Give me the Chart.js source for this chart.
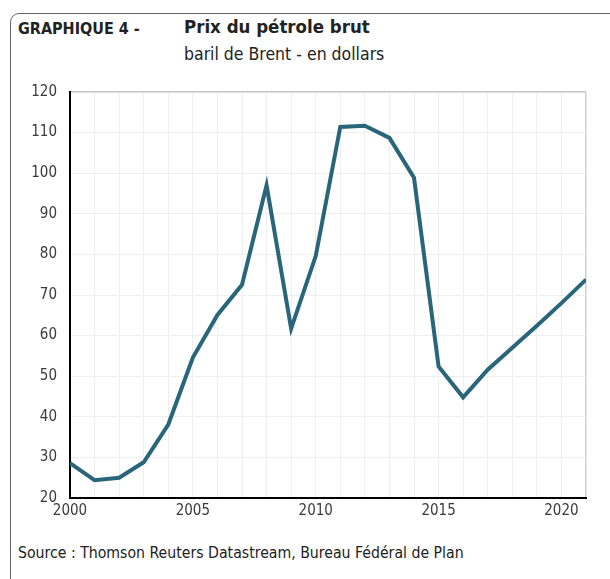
<!DOCTYPE html>
<html>
<head>
<meta charset="utf-8">
<script src="https://cdn.jsdelivr.net/npm/chart.js@4"></script>
<style>
  body { margin: 0; background: #fff; width: 610px; height: 579px; overflow: hidden; position: relative;
         font-family: "DejaVu Sans Condensed", "Open Sans", sans-serif; color: #222; }
  .frame { position: absolute; left: 10px; top: 13px; width: 640px; height: 620px;
           border: 1.5px solid #666; border-radius: 9px; }
  .t { position: absolute; white-space: nowrap; }
  #wrap { position: absolute; left: 0; top: 70px; width: 610px; height: 460px; }
</style>
</head>
<body>
<div class="frame"></div>
<div class="t" style="left:18px; top:19px; font-size:16px; font-weight:bold;">GRAPHIQUE 4 -</div>
<div class="t" style="left:184px; top:16px; font-size:18.5px; font-weight:bold;">Prix du pétrole brut</div>
<div class="t" style="left:184px; top:44px; font-size:17.5px;">baril de Brent - en dollars</div>
<div class="t" style="left:18px; top:543px; font-size:15.7px;">Source : Thomson Reuters Datastream, Bureau Fédéral de Plan</div>
<div id="wrap"><canvas id="c"></canvas></div>
<script>
const years = [2000, 2001, 2002, 2003, 2004, 2005, 2006, 2007, 2008, 2009, 2010,
  2011, 2012, 2013, 2014, 2015, 2016, 2017, 2018, 2019, 2020, 2021];
const brent = [28.6, 24.4, 25.0, 28.8, 38.1, 54.6, 65.1, 72.5, 97.0, 61.7, 79.6,
  111.4, 111.7, 108.7, 98.9, 52.4, 44.8, 51.6, 57.0, 62.4, 68.0, 73.8];
const yMin = 20, yMax = 120, yStep = 10;
const labelEvery = 5;

const font = { family: '"DejaVu Sans Condensed", "Open Sans", sans-serif', size: 15 };

new Chart(document.getElementById("c"), {
  type: "line",
  data: {
    datasets: [{
      data: years.map((y, i) => ({ x: y, y: brent[i] })),
      borderColor: "#29667b",
      borderWidth: 4,
      pointRadius: 0,
      tension: 0
    }]
  },
  options: {
    responsive: true,
    maintainAspectRatio: false,
    animation: false,
    layout: { padding: { top: 0, right: 24, left: 0, bottom: 0 } },
    plugins: { legend: { display: false }, tooltip: { enabled: false } },
    scales: {
      x: {
        type: "linear",
        min: years[0],
        max: years[years.length - 1],
        afterFit: s => { s.height = 32; },
        border: { color: "#000", width: 2 },
        grid: {
          drawTicks: false,
          color: c => c.tick && c.tick.value === years[years.length - 1] ? "#cfcfcf" : "#efefef",
          lineWidth: c => c.tick && c.tick.value === years[years.length - 1] ? 1.5 : 1
        },
        ticks: {
          stepSize: 1,
          autoSkip: false,
          maxRotation: 0,
          padding: 4,
          color: "#3a3a3a",
          font,
          callback: v => (v % labelEvery === 0 ? String(v) : "")
        }
      },
      y: {
        min: yMin,
        max: yMax,
        afterFit: s => { s.width = 70; },
        border: { color: "#000", width: 2 },
        grid: {
          drawTicks: false,
          color: c => c.tick && c.tick.value === yMax ? "#c4c4c4" : "#efefef",
          lineWidth: c => c.tick && c.tick.value === yMax ? 1.5 : 1
        },
        ticks: {
          stepSize: yStep,
          padding: 13,
          color: "#3a3a3a",
          font
        }
      }
    }
  }
});
</script>
</body>
</html>
